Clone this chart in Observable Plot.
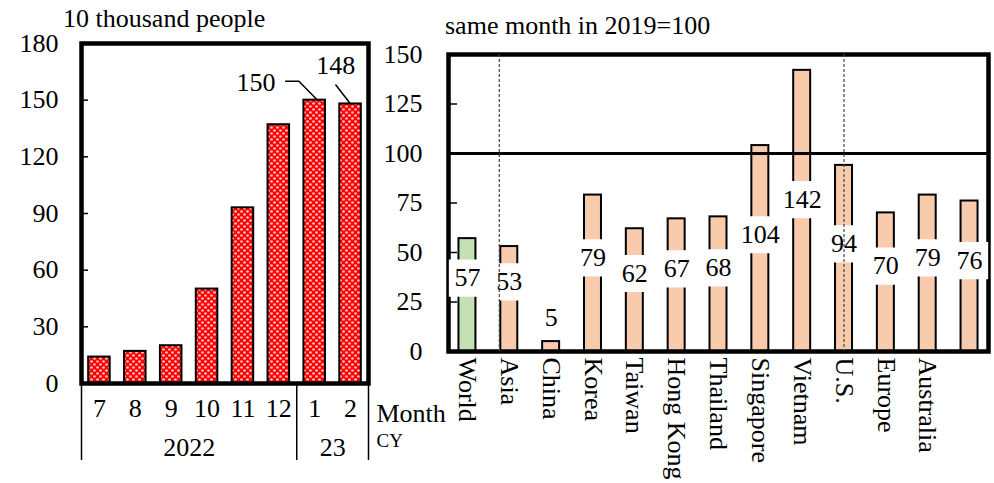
<!DOCTYPE html>
<html>
<head>
<meta charset="utf-8">
<script src="https://cdn.jsdelivr.net/npm/d3@7"></script>
<script src="https://cdn.jsdelivr.net/npm/@observablehq/plot@0.6"></script>
<style>
  body { margin: 0; background: #fff; }
  #chart { position: relative; width: 994px; height: 483px; background: #fff;
           font-family: "Liberation Serif", "Times New Roman", serif; color: #000; }
  #chart svg text, #chart svg tspan { font-family: "Liberation Serif", "Times New Roman", serif !important; }
  .panel { position: absolute; top: 0; }
  .unit { position: absolute; font-size: 26px; line-height: 1; white-space: nowrap;
          font-family: "Liberation Serif", "Times New Roman", serif; }
</style>
</head>
<body>
<div id="chart">
  <div id="right" class="panel" style="left:380px"></div>
  <div id="left" class="panel" style="left:0px"></div>
  <div class="unit" style="left:63px; top:6px">10 thousand people</div>
  <div class="unit" style="left:445px; top:13px">same month in 2019=100</div>
</div>
<script>
// Monthly foreign visitor arrivals (10 thousand people)
const months = ["7", "8", "9", "10", "11", "12", "1", "2"];
const monthYears = ["2022", "2022", "2022", "2022", "2022", "2022", "23", "23"];
const visitors = [14, 17, 20, 50, 93, 137, 150, 148];
const leftTicks = [0, 30, 60, 90, 120, 150, 180];

// Arrivals by origin, same month in 2019 = 100
const regions = ["World", "Asia", "China", "Korea", "Taiwan", "Hong Kong", "Thailand",
                 "Singapore", "Vietnam", "U.S.", "Europe", "Australia", ""];
const indexVs2019 = [57, 53, 5, 79, 62, 67, 68, 104, 142, 94, 70, 79, 76];
const rightTicks = [0, 25, 50, 75, 100, 125, 150];

const FONT = "Liberation Serif, Times New Roman, serif";
const baseStyle = {fontFamily: FONT, fontSize: "26px", color: "#000", background: "none", overflow: "visible"};

// ---------- left panel: monthly arrivals ----------
const L = {width: 440, height: 483, top: 43, right: 72, bottom: 100, left: 81};
const LFW = L.width - L.left - L.right;   // frame width
const LFH = L.height - L.top - L.bottom;  // frame height

const leftData = months.map((m, i) => ({i, month: m, year: monthYears[i], v: visitors[i]}));
const yearSpans = d3.groups(leftData, d => d.year).map(([year, rows]) => ({
  year, from: rows[0].i - 0.5, to: rows[rows.length - 1].i + 0.5
}));
const yearBounds = [yearSpans[0].from, ...yearSpans.map(s => s.to)];

// call-outs for the two latest months: leader offsets (index, value) from the bar top
const callouts = [
  {i: 6, anchor: "end", label: [-1.09, 9.5], leader: [[0.08, 0], [-0.44, 10], [-0.81, 10]]},
  {i: 7, anchor: "middle", label: [-0.41, 20], leader: [[0, 0], [-0.41, 10]]}
];
const leaderPts = callouts.flatMap(c =>
  c.leader.map(([dx, dy]) => ({c: c.i, x: c.i + dx, y: visitors[c.i] + dy})));

const leftPlot = Plot.plot({
  width: L.width, height: L.height,
  marginTop: L.top, marginRight: L.right, marginBottom: L.bottom, marginLeft: L.left,
  style: baseStyle,
  x: {domain: [-0.5, months.length - 0.5], axis: null},
  y: {domain: [0, 180], ticks: leftTicks, tickSize: 0, tickPadding: 23, label: null},
  marks: [
    Plot.rectY(leftData, {x1: d => d.i - 0.3, x2: d => d.i + 0.3, y1: 0, y2: "v",
                          fill: "url(#dots)", stroke: "#000", strokeWidth: 2}),
    Plot.frame({stroke: "#000", strokeWidth: 4.5}),
    Plot.tickY(leftTicks.slice(1, -1), {y: d => d, insetRight: LFW - 7, stroke: "#000", strokeWidth: 1.5}),
    Plot.text(leftData, {x: "i", text: "month", frameAnchor: "bottom", dy: 25, lineAnchor: "middle", fontSize: 26}),
    Plot.ruleX(yearBounds, {insetTop: LFH, insetBottom: -77, stroke: "#000", strokeWidth: 1.5}),
    Plot.text(yearSpans, {x: d => (d.from + d.to) / 2, text: "year", frameAnchor: "bottom",
                          dy: 64, lineAnchor: "middle", fontSize: 26}),
    Plot.text(["Month"], {frameAnchor: "bottom-right", dx: 8, dy: 30, textAnchor: "start",
                          lineAnchor: "middle", fontSize: 26}),
    Plot.text(["CY"], {frameAnchor: "bottom-right", dx: 8, dy: 57, textAnchor: "start",
                       lineAnchor: "middle", fontSize: 19}),
    Plot.line(leaderPts, {x: "x", y: "y", z: "c", stroke: "#000", strokeWidth: 1.5}),
    ...callouts.map(c => Plot.text([c], {
      x: d => d.i + d.label[0], y: d => visitors[d.i] + d.label[1],
      text: d => String(visitors[d.i]), textAnchor: c.anchor, lineAnchor: "middle", fontSize: 26
    }))
  ]
});

// red fill with a white dotted texture
const ns = "http://www.w3.org/2000/svg";
const defs = document.createElementNS(ns, "defs");
defs.innerHTML =
  '<pattern id="dots" width="6" height="6" patternUnits="userSpaceOnUse">' +
  '<rect width="6" height="6" fill="#ff0000"/>' +
  '<rect x="0.5" y="0.5" width="2" height="2" fill="#ffffff"/>' +
  '<rect x="3.5" y="3.5" width="2" height="2" fill="#ffffff"/>' +
  '<rect x="0" y="1" width="3" height="0.8" fill="#ffb0b0"/>' +
  '<rect x="3" y="4" width="3" height="0.8" fill="#ffb0b0"/>' +
  '</pattern>';
leftPlot.insertBefore(defs, leftPlot.firstChild);
document.getElementById("left").appendChild(leftPlot);

// ---------- right panel: index vs 2019 ----------
const R = {width: 614, height: 483, top: 54, right: 6, bottom: 132, left: 68};
const RFW = R.width - R.left - R.right;

const rightData = regions.map((r, i) => ({r, v: indexVs2019[i]}));
// value label sits inside the bar, or above it when the bar is too short
const labelLevel = d => d.v < 20 ? d.v + 12 : 10.5 + 0.466 * d.v;
const dashed = {stroke: "#444", strokeWidth: 1.2, strokeDasharray: "3,2"};

const rightPlot = Plot.plot({
  width: R.width, height: R.height,
  marginTop: R.top, marginRight: R.right, marginBottom: R.bottom, marginLeft: R.left,
  style: baseStyle,
  x: {domain: regions, paddingInner: 0.594, paddingOuter: 0.25, round: false, tickRotate: 90,
      tickSize: 0, tickPadding: 6, label: null},
  y: {domain: [0, 150], ticks: rightTicks, tickSize: 0, tickPadding: 26, label: null},
  marks: [
    Plot.barY(rightData.filter(d => d.r === "World"), {x: "r", y: "v", fill: "#c5e0b4", stroke: "#000", strokeWidth: 2}),
    Plot.barY(rightData.filter(d => d.r !== "World"), {x: "r", y: "v", fill: "#f8cbad", stroke: "#000", strokeWidth: 2}),
    Plot.ruleY([100], {stroke: "#000", strokeWidth: 3}),
    Plot.frame({stroke: "#000", strokeWidth: 4.5}),
    Plot.tickY(rightTicks.filter(t => t > 0 && t < 150 && t !== 100),
               {y: d => d, insetRight: RFW - 9, stroke: "#000", strokeWidth: 1.5}),
    Plot.dot(rightData, {x: "r", y: labelLevel, symbol: "square", r: 21, fill: "#fff", stroke: null}),
    Plot.text(rightData, {x: "r", y: labelLevel, text: d => String(d.v), lineAnchor: "middle", fontSize: 26}),
    Plot.ruleX(["Asia"], {...dashed, dx: -10}),
    Plot.ruleX(["U.S."], {...dashed})
  ]
});
document.getElementById("right").appendChild(rightPlot);
</script>
</body>
</html>
